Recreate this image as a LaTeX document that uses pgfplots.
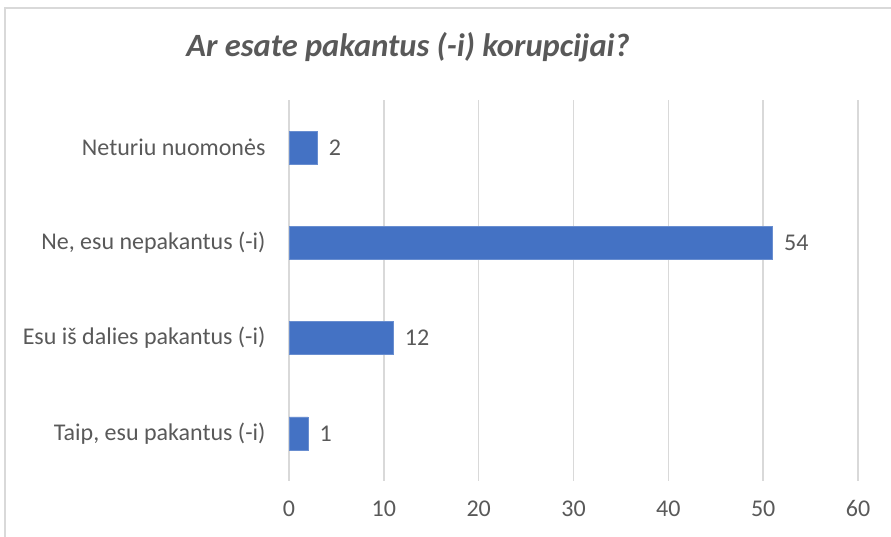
\documentclass[border=0pt]{standalone}
\usepackage{fontspec}
\setmainfont{Carlito}
\usepackage{pgfplots}
\usepackage{pgfplotstable}
\pgfplotsset{compat=1.18}

\definecolor{barblue}{HTML}{4472C4}
\definecolor{txtgray}{HTML}{595959}
\definecolor{gridgray}{HTML}{D9D9D9}

% y position, bar length, printed label
\pgfplotstableread{
pos len lab
0 2  1
1 11 12
2 51 54
3 3  2
}\answers

\begin{document}
\begin{tikzpicture}
\useasboundingbox (0,0) rectangle (891pt,537pt);
\draw[gridgray, line width=1.5pt] (5pt,0) -- (5pt,529pt) -- (891pt,529pt);
\begin{axis}[
    scale only axis,
    width=569pt, height=381pt,
    at={(289pt,56pt)}, anchor=south west,
    xbar, bar width=33pt,
    xmin=0, xmax=60,
    ymin=-0.5, ymax=3.5,
    xtick={0,10,...,60},
    ytick={0,1,2,3},
    yticklabels={{Taip, esu pakantus (-i)},{Esu iš dalies pakantus (-i)},{Ne, esu nepakantus (-i)},{Neturiu nuomonės}},
    axis line style={draw=none},
    major tick length=0pt,
    xmajorgrids, grid style={gridgray, line width=1.5pt},
    tick label style={text=txtgray, font=\fontsize{24}{28}\selectfont},
    /pgf/number format/assume math mode=true,
    yticklabel style={xshift=-20pt},
    xticklabel style={yshift=-16pt},
    nodes near coords,
    point meta=explicit symbolic,
    every node near coord/.append style={anchor=west, text=txtgray, font=\fontsize{24}{28}\selectfont, xshift=8pt},
    clip=false,
]
\addplot[fill=barblue, draw=barblue!80!white] table[x=len, y=pos, meta=lab] {\answers};
\end{axis}
\node[text=txtgray, font=\fontsize{32.5}{38}\selectfont\bfseries\itshape] at (408pt,490pt) {Ar esate pakantus (-i) korupcijai?};
\end{tikzpicture}
\end{document}
